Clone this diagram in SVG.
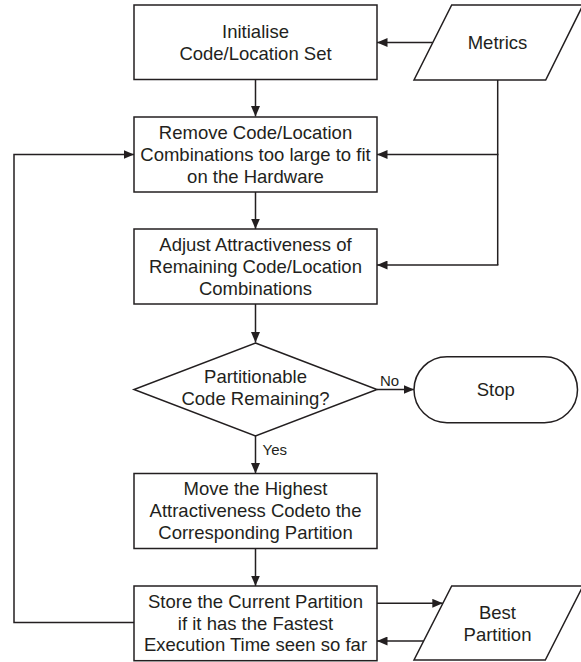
<svg xmlns="http://www.w3.org/2000/svg" width="581" height="662" viewBox="0 0 581 662">
  <style>
    .shape { fill: #ffffff; stroke: #231f20; stroke-width: 1.5; }
    .wire { fill: none; stroke: #231f20; stroke-width: 1.5; }
    .txt { font-family: "Liberation Sans", Arial, sans-serif; font-size: 18.5px; fill: #231f20; text-anchor: middle; }
    .lbl { font-family: "Liberation Sans", Arial, sans-serif; font-size: 15px; fill: #231f20; }
  </style>
  <defs>
    <marker id="arrow" markerUnits="userSpaceOnUse" markerWidth="11" markerHeight="9" refX="10.5" refY="4.5" orient="auto">
      <path d="M0,0 L10.5,4.5 L0,9 z" fill="#231f20"/>
    </marker>
  </defs>
  <rect width="581" height="662" fill="#ffffff"/>

  <!-- connectors -->
  <g id="connectors">
    <line class="wire" x1="432.7" y1="42.5" x2="377" y2="42.5" marker-end="url(#arrow)"/>
    <line class="wire" x1="255.5" y1="79.5" x2="255.5" y2="116.5" marker-end="url(#arrow)"/>
    <line class="wire" x1="497.7" y1="80" x2="497.7" y2="265"/>
    <line class="wire" x1="498.4" y1="154.5" x2="377" y2="154.5" marker-end="url(#arrow)"/>
    <line class="wire" x1="498.4" y1="265" x2="377" y2="265" marker-end="url(#arrow)"/>
    <line class="wire" x1="255.5" y1="192" x2="255.5" y2="229" marker-end="url(#arrow)"/>
    <line class="wire" x1="255.5" y1="304" x2="255.5" y2="342.5" marker-end="url(#arrow)"/>
    <line class="wire" x1="377" y1="389.5" x2="414" y2="389.5" marker-end="url(#arrow)"/>
    <line class="wire" x1="255.5" y1="436" x2="255.5" y2="473.5" marker-end="url(#arrow)"/>
    <line class="wire" x1="255.5" y1="548.5" x2="255.5" y2="586" marker-end="url(#arrow)"/>
    <polyline class="wire" points="134,622.5 14,622.5 14,154.5 134,154.5" marker-end="url(#arrow)"/>
    <line class="wire" x1="377" y1="603.3" x2="442.8" y2="603.3" marker-end="url(#arrow)"/>
    <line class="wire" x1="423.7" y1="641" x2="377" y2="641" marker-end="url(#arrow)"/>
    <text class="lbl" x="380" y="385.5">No</text>
    <text class="lbl" x="262.5" y="454.5">Yes</text>
  </g>

  <g id="init">
    <rect class="shape" x="134" y="5" width="243" height="74.5"/>
    <text class="txt" x="255.5" y="37.5">Initialise</text>
    <text class="txt" x="255.5" y="59.5">Code/Location Set</text>
  </g>

  <g id="metrics">
    <polygon class="shape" points="451.7,5 583,5 545.7,80 414,80"/>
    <text class="txt" x="497.5" y="48.5">Metrics</text>
  </g>

  <g id="remove">
    <rect class="shape" x="134" y="117" width="243" height="75"/>
    <text class="txt" x="255.5" y="139.2">Remove Code/Location</text>
    <text class="txt" x="255.5" y="160.9">Combinations too large to fit</text>
    <text class="txt" x="255.5" y="182.6">on the Hardware</text>
  </g>

  <g id="adjust">
    <rect class="shape" x="134" y="229" width="243" height="75"/>
    <text class="txt" x="255.5" y="251.2">Adjust Attractiveness of</text>
    <text class="txt" x="255.5" y="272.9">Remaining Code/Location</text>
    <text class="txt" x="255.5" y="294.6">Combinations</text>
  </g>

  <g id="decision">
    <polygon class="shape" points="255.5,343 377,389.5 255.5,436 134,389.5"/>
    <text class="txt" x="255.5" y="382.5">Partitionable</text>
    <text class="txt" x="255.5" y="404.5">Code Remaining?</text>
  </g>

  <g id="stop">
    <rect class="shape" x="414" y="356.7" width="163.5" height="66" rx="33" ry="33"/>
    <text class="txt" x="495.7" y="396">Stop</text>
  </g>

  <g id="move">
    <rect class="shape" x="134" y="473.5" width="243" height="75"/>
    <text class="txt" x="255.5" y="495.4">Move the Highest</text>
    <text class="txt" x="255.5" y="517.1">Attractiveness Codeto the</text>
    <text class="txt" x="255.5" y="538.8">Corresponding Partition</text>
  </g>

  <g id="store">
    <rect class="shape" x="134" y="586" width="243" height="74.7"/>
    <text class="txt" x="255.5" y="607.9">Store the Current Partition</text>
    <text class="txt" x="255.5" y="629.6">if it has the Fastest</text>
    <text class="txt" x="255.5" y="651.3">Execution Time seen so far</text>
  </g>

  <g id="best">
    <polygon class="shape" points="451.7,586 583,586 545.3,660 414,660"/>
    <text class="txt" x="497.5" y="619">Best</text>
    <text class="txt" x="497.5" y="641">Partition</text>
  </g>
</svg>
